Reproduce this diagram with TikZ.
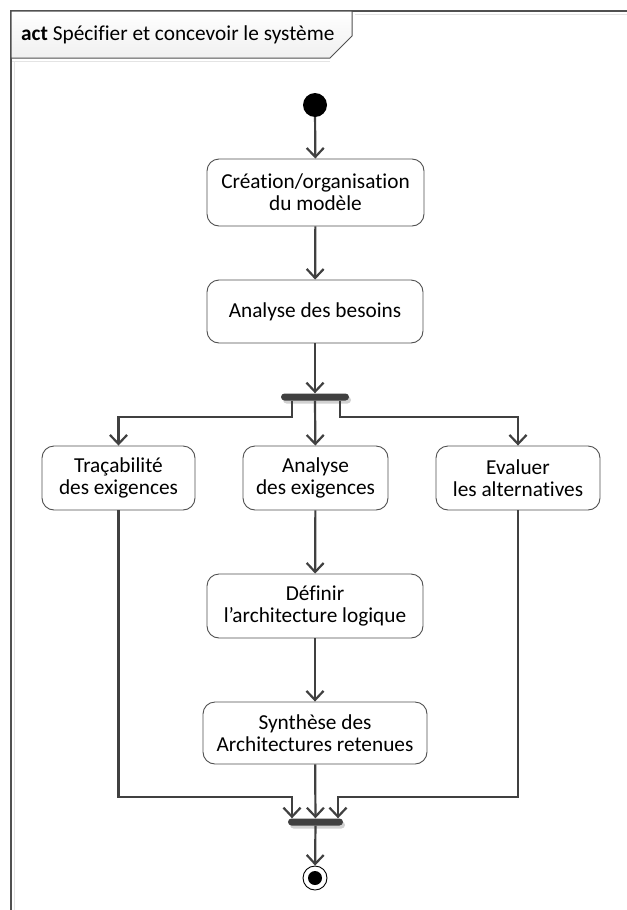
\documentclass[tikz,border=0pt]{standalone}
\usepackage{fontspec}
\setmainfont{Carlito}[Ligatures=NoCommon]
\usetikzlibrary{arrows.meta,shadows}
\definecolor{edge}{HTML}{404040}
\definecolor{boxline}{HTML}{505050}
\definecolor{faint}{HTML}{E4E4E4}
\begin{document}
\begin{tikzpicture}[x=1bp,y=-1bp,
  txt/.style={font=\fontsize{21.3bp}{22bp}\selectfont},
  action/.style={txt, draw=boxline, line width=0.9bp, rounded corners=12bp,
    fill=white, align=center, inner sep=0pt},
  flow/.style={draw=edge, line width=2.2bp,
    -{Straight Barb[length=9bp,width=17bp,line width=2.2bp]}},
  bar/.style={fill=edge, rounded corners=3.5bp, inner sep=0pt,
    minimum height=7bp,
    drop shadow={shadow xshift=2bp, shadow yshift=-3bp, fill=black!18, opacity=1}},
]
\useasboundingbox (0,0) rectangle (627,910);

% frame of the activity
\draw[faint, line width=1bp] (14,910) -- (14,61) (11,61) -- (330,61);
\draw[faint, line width=1bp] (355,14) -- (627,14);
\draw[boxline, line width=1.5bp] (11,910) -- (11,11) -- (627,11);
\draw[boxline, line width=1bp, top color=white, bottom color=black!6]
  (11,11) -- (352,11) -- (352,36) -- (330,58) -- (11,58) -- cycle;
\node[txt, anchor=west, inner sep=0pt] (title) at (21,35)
  {\textbf{act} Spécifier et concevoir le système};

% initial and final nodes
\node[circle, fill=black, minimum size=24bp, inner sep=0pt] (start) at (315,105) {};
\node[circle, draw=black, line width=0.9bp, fill=white, minimum size=24bp,
  inner sep=0pt] (final) at (315,878) {};
\node[circle, fill=black, minimum size=14bp, inner sep=0pt] (finaldot) at (final) {};

% actions
\node[action, minimum width=217bp, minimum height=67bp] (model) at (315.5,192.5)
  {Création/organisation\\du modèle};
\node[action, minimum width=216bp, minimum height=63bp] (needs) at (315,311.5)
  {Analyse des besoins};
\node[action, minimum width=153bp, minimum height=64bp] (trace) at (118.5,478)
  {Traçabilité\\des exigences};
\node[action, minimum width=145bp, minimum height=64bp] (reqs) at (315.5,478)
  {Analyse\\des exigences};
\node[action, minimum width=164bp, minimum height=64bp] (alt) at (518,478)
  {Evaluer\\les alternatives};
\node[action, minimum width=216bp, minimum height=64bp] (logic) at (315,606)
  {Définir\\l’architecture logique};
\node[action, minimum width=224bp, minimum height=62bp] (synth) at (315,733)
  {Synthèse des\\Architectures retenues};

% fork and join bars
\node[bar, minimum width=68bp] (fork) at (315,397) {};
\node[bar, minimum width=55bp] (join) at (315.5,822) {};

% bend points
\coordinate (fl) at (292,417);
\coordinate (fr) at (340,417);
\coordinate (jl) at (292,797);
\coordinate (jr) at (338,797);

% control flows
\draw[flow] (start) -- (model);
\draw[flow] (model) -- (needs);
\draw[flow] (needs) -- (fork);
\draw[flow] (fl |- fork.south) -- (fl) -| (trace.north);
\draw[flow] (fork) -- (reqs);
\draw[flow] (fr |- fork.south) -- (fr) -| (alt.north);
\draw[flow] (reqs) -- (logic);
\draw[flow] (logic) -- (synth);
\draw[flow] (trace.south) |- (jl) -- (jl |- join.north);
\draw[flow] (alt.south) |- (jr) -- (jr |- join.north);
\draw[flow] (synth) -- (join);
\draw[flow] (join) -- (final);
\end{tikzpicture}
\end{document}
